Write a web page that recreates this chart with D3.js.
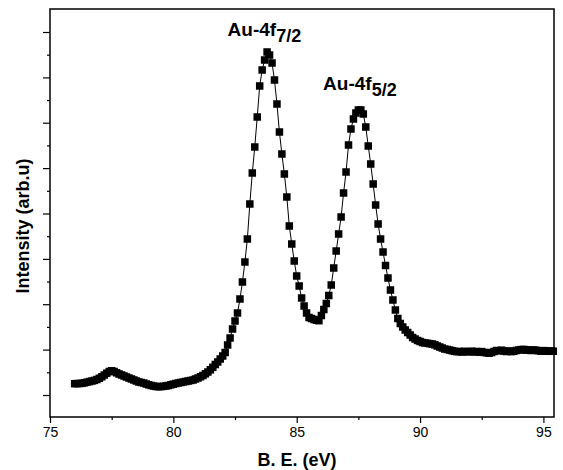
<html>
<head>
    <script src="https://d3js.org/d3.v7.min.js"></script>
    <style>
        html,body{
            margin: 0px;
            padding: 0px;
            background-color: white;
        }
        text {
            font-family: "Liberation Sans", Arial, sans-serif;
            fill: black;
        }
    </style>
</head>
<body>
    <div id="chart"></div>
    <script>
        // binding energy (eV)
        const energy = [
            76.0,76.1,76.2,76.3,76.4,76.5,76.6,76.7,76.8,76.9,
            77.0,77.1,77.2,77.3,77.4,77.5,77.6,77.7,77.8,77.9,
            78.0,78.1,78.2,78.3,78.4,78.5,78.6,78.7,78.8,78.9,
            79.0,79.1,79.2,79.3,79.4,79.5,79.6,79.7,79.8,79.9,
            80.0,80.1,80.2,80.3,80.4,80.5,80.6,80.7,80.8,80.9,
            81.0,81.1,81.2,81.3,81.4,81.5,81.6,81.7,81.8,81.9,
            82.0,82.1,82.2,82.3,82.4,82.5,82.6,82.7,82.8,82.9,
            83.0,83.1,83.2,83.3,83.4,83.5,83.6,83.7,83.8,83.9,
            84.0,84.1,84.2,84.3,84.4,84.5,84.6,84.7,84.8,84.9,
            85.0,85.1,85.2,85.3,85.4,85.5,85.6,85.7,85.8,85.9,
            86.0,86.1,86.2,86.3,86.4,86.5,86.6,86.7,86.8,86.9,
            87.0,87.1,87.2,87.3,87.4,87.5,87.6,87.7,87.8,87.9,
            88.0,88.1,88.2,88.3,88.4,88.5,88.6,88.7,88.8,88.9,
            89.0,89.1,89.2,89.3,89.4,89.5,89.6,89.7,89.8,89.9,
            90.0,90.1,90.2,90.3,90.4,90.5,90.6,90.7,90.8,90.9,
            91.0,91.1,91.2,91.3,91.4,91.5,91.6,91.7,91.8,91.9,
            92.0,92.1,92.2,92.3,92.4,92.5,92.6,92.7,92.8,92.9,
            93.0,93.1,93.2,93.3,93.4,93.5,93.6,93.7,93.8,93.9,
            94.0,94.1,94.2,94.3,94.4,94.5,94.6,94.7,94.8,94.9,
            95.0,95.1,95.2,95.3,95.4
        ];
        // intensity (arbitrary counts)
        const intensity = [
            333,334,335,337,342,348,354,360,366,375,
            387,402,420,438,455,462,455,442,430,420,
            410,400,390,380,370,360,350,345,340,330,
            322,315,310,305,303,304,307,310,315,322,
            328,335,340,345,350,355,360,365,370,380,
            390,402,415,432,450,472,497,525,550,580,
            610,645,720,790,880,960,1040,1180,1350,1550,
            1780,2130,2440,2700,3000,3310,3470,3570,3650,3620,
            3540,3370,3130,2850,2630,2430,2200,1910,1730,1560,
            1410,1310,1190,1110,1040,995,985,975,968,963,
            1015,1075,1135,1215,1320,1490,1660,1830,2000,2240,
            2450,2720,2880,2980,3040,3070,3070,3030,2900,2710,
            2530,2330,2120,1930,1780,1650,1515,1390,1270,1170,
            1070,985,935,900,870,845,820,795,780,765,
            755,745,740,737,733,730,722,710,700,690,
            680,675,670,663,657,653,655,650,657,652,
            653,658,650,655,648,654,646,642,638,645,
            655,665,662,668,660,655,660,654,657,665,
            670,674,676,668,672,665,670,668,662,658,
            664,660,657,661,658
        ];
        const xTicks = [75, 80, 85, 90, 95];
        const xMinorTicks = [77.5, 82.5, 87.5, 92.5];
        const yTicks = [220, 674, 1128, 1581, 2035, 2489, 2943, 3396, 3850];
        const peakLabels = [
            { main: "Au-4f", sub: "7/2", e: 82.2, v: 3810 },
            { main: "Au-4f", sub: "5/2", e: 86.07, v: 3270 }
        ];

        const data = energy.map((e, i) => ({ e: e, v: intensity[i] }));

        const plot = { left: 50, right: 554, top: 9, bottom: 417 };
        const svg = d3.select("#chart")
            .append("svg")
                .attr("width", 563)
                .attr("height", 470);

        const x = d3.scaleLinear()
            .domain([75, 95])
            .range([plot.left, 543.4]);
        const y = d3.scaleLinear()
            .domain([0, 4080])
            .range([plot.bottom, plot.top]);

        // frame
        svg.append("rect")
            .attr("x", plot.left)
            .attr("y", plot.top)
            .attr("width", plot.right - plot.left)
            .attr("height", plot.bottom - plot.top)
            .attr("fill", "none")
            .attr("stroke", "black")
            .attr("stroke-width", 1.5);

        // X axis
        const gx = svg.append("g")
            .attr("transform", "translate(0," + plot.bottom + ")");
        gx.call(d3.axisBottom(x).tickValues(xTicks).tickSize(6).tickPadding(4));
        gx.append("g").call(d3.axisBottom(x).tickValues(xMinorTicks).tickSize(3).tickFormat(""));
        gx.selectAll(".domain").attr("display", "none");
        gx.selectAll(".tick line").attr("stroke-width", 1.2);
        gx.selectAll(".tick text")
            .attr("font-size", 14)
            .attr("font-family", "'Liberation Sans', Arial, sans-serif");

        // Y axis (no labels)
        const yMinor = yTicks.slice(0, -1).map((t, i) => (t + yTicks[i + 1]) / 2);
        const gy = svg.append("g")
            .attr("transform", "translate(" + plot.left + ",0)");
        gy.call(d3.axisLeft(y).tickValues(yTicks).tickSize(7).tickFormat(""));
        gy.append("g").call(d3.axisLeft(y).tickValues(yMinor).tickSize(3).tickFormat(""));
        gy.selectAll(".domain").attr("display", "none");
        gy.selectAll(".tick line").attr("stroke-width", 1.2);

        // axis titles
        svg.append("text")
            .attr("x", 297)
            .attr("y", 466)
            .attr("text-anchor", "middle")
            .attr("font-size", 18)
            .attr("font-weight", "bold")
            .text("B. E. (eV)");

        svg.append("text")
            .attr("transform", "translate(29,226) rotate(-90)")
            .attr("text-anchor", "middle")
            .attr("font-size", 18)
            .attr("font-weight", "bold")
            .text("Intensity (arb.u)");

        // connecting line
        svg.append("path")
            .datum(data)
            .attr("fill", "none")
            .attr("stroke", "black")
            .attr("stroke-width", 1)
            .attr("d", d3.line()
                .x(d => x(d.e))
                .y(d => y(d.v)));

        // square markers
        const s = 7.5;
        svg.append("g")
            .selectAll("rect")
            .data(data)
            .enter()
            .append("rect")
                .attr("x", d => x(d.e) - s / 2)
                .attr("y", d => y(d.v) - s / 2)
                .attr("width", s)
                .attr("height", s)
                .attr("fill", "black");

        // peak labels
        peakLabels.forEach(p => {
            const t = svg.append("text")
                .attr("x", x(p.e))
                .attr("y", y(p.v))
                .attr("font-size", 19)
                .attr("font-weight", "bold");
            t.append("tspan").text(p.main);
            t.append("tspan")
                .attr("dy", 6)
                .attr("font-size", 18)
                .text(p.sub);
        });
    </script>
</body>
</html>
